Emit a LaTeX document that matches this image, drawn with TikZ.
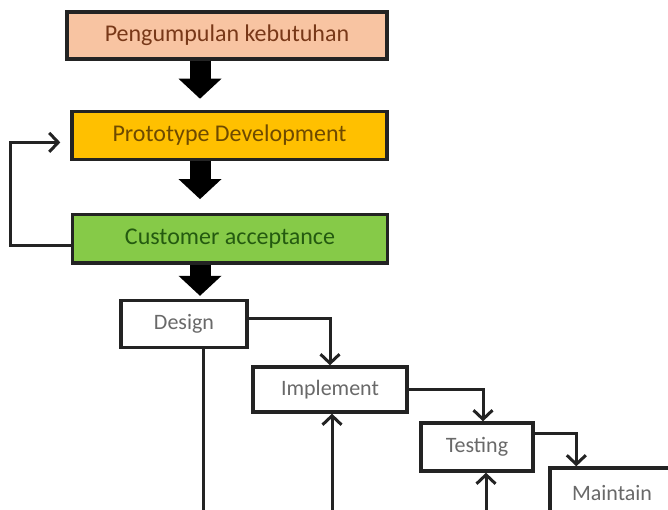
\documentclass[tikz,border=0pt]{standalone}
\usepackage{fontspec}
\setmainfont{Carlito}
\usepackage{tikz}
\usetikzlibrary{positioning,arrows.meta}
\definecolor{reqfill}{RGB}{248,196,162}
\definecolor{reqtext}{RGB}{120,56,24}
\definecolor{protofill}{RGB}{255,192,0}
\definecolor{prototext}{RGB}{110,74,0}
\definecolor{custfill}{RGB}{134,202,72}
\definecolor{custtext}{RGB}{36,90,16}
\definecolor{stepgray}{RGB}{105,105,105}
\definecolor{edge}{RGB}{35,35,35}

\begin{document}
\begin{tikzpicture}[
    x=1pt,y=-1pt,
    phase/.style={draw=edge,line width=3.4pt,minimum width=315pt,minimum height=48pt,inner sep=0pt,align=center,font=\fontsize{24}{28}\selectfont},
    stage/.style={draw=edge,line width=3.4pt,fill=white,minimum height=47pt,inner sep=0pt,align=center,text=stepgray,font=\fontsize{22}{26}\selectfont},
    bigarrow/.style={line width=21pt,color=black,-{Triangle[length=20pt,width=43pt,line width=0pt]}},
    flow/.style={line width=3pt,color=edge,-{Straight Barb[length=9pt,width=19pt]}},
    plain/.style={line width=3pt,color=edge}
  ]
    \useasboundingbox (0,0) rectangle (668,510);
    \clip (0,0) rectangle (668,510);
    \node[phase,fill=reqfill,text=reqtext,minimum width=320pt,minimum height=47pt] (req) at (227,35.5) {Pengumpulan kebutuhan};
    \node[phase,fill=protofill,text=prototext,below=49pt of req,xshift=2.5pt] (proto) {Prototype Development};
    \node[phase,fill=custfill,text=custtext,below=52pt of proto,xshift=0.5pt] (cust) {Customer acceptance};
    \node[stage,minimum width=126pt] (design) at (184,324) {Design};
    \node[stage,minimum width=154pt,minimum height=45pt] (impl) at (330,389.5) {Implement};
    \node[stage,minimum width=112pt,minimum height=48pt] (test) at (477,447) {Testing};
    \node[stage,minimum width=124pt,minimum height=50pt] (maint) at (612,493) {Maintain};
    \coordinate (ax) at (200,0);
    \coordinate (b1) at (203,512);
    \coordinate (b2) at (332,512);
    \coordinate (b3) at (486,512);
    \draw[bigarrow,shorten >=11pt] (req.south -| ax) -- (proto.north -| ax);
    \draw[bigarrow,shorten >=14pt] (proto.south -| ax) -- (cust.north -| ax);
    \draw[bigarrow,shorten >=3pt] (cust.south -| ax) -- (design.north -| ax);
    \draw[flow] ([yshift=-7pt]cust.west) -- ++(-60,0) |- ([xshift=-10pt,yshift=-7pt]proto.west);
    \draw[flow] ([yshift=6pt]design.east) -| (impl.north);
    \draw[flow] (impl.east) -| ([xshift=6pt]test.north);
    \draw[flow] ([yshift=14pt]test.east) -| ([xshift=28pt]maint.north west);
    \draw[plain] (design.south -| b1) -- (b1);
    \draw[flow] (b2) -- (impl.south -| b2);
    \draw[flow] (b3) -- (test.south -| b3);
  \end{tikzpicture}
\end{document}
